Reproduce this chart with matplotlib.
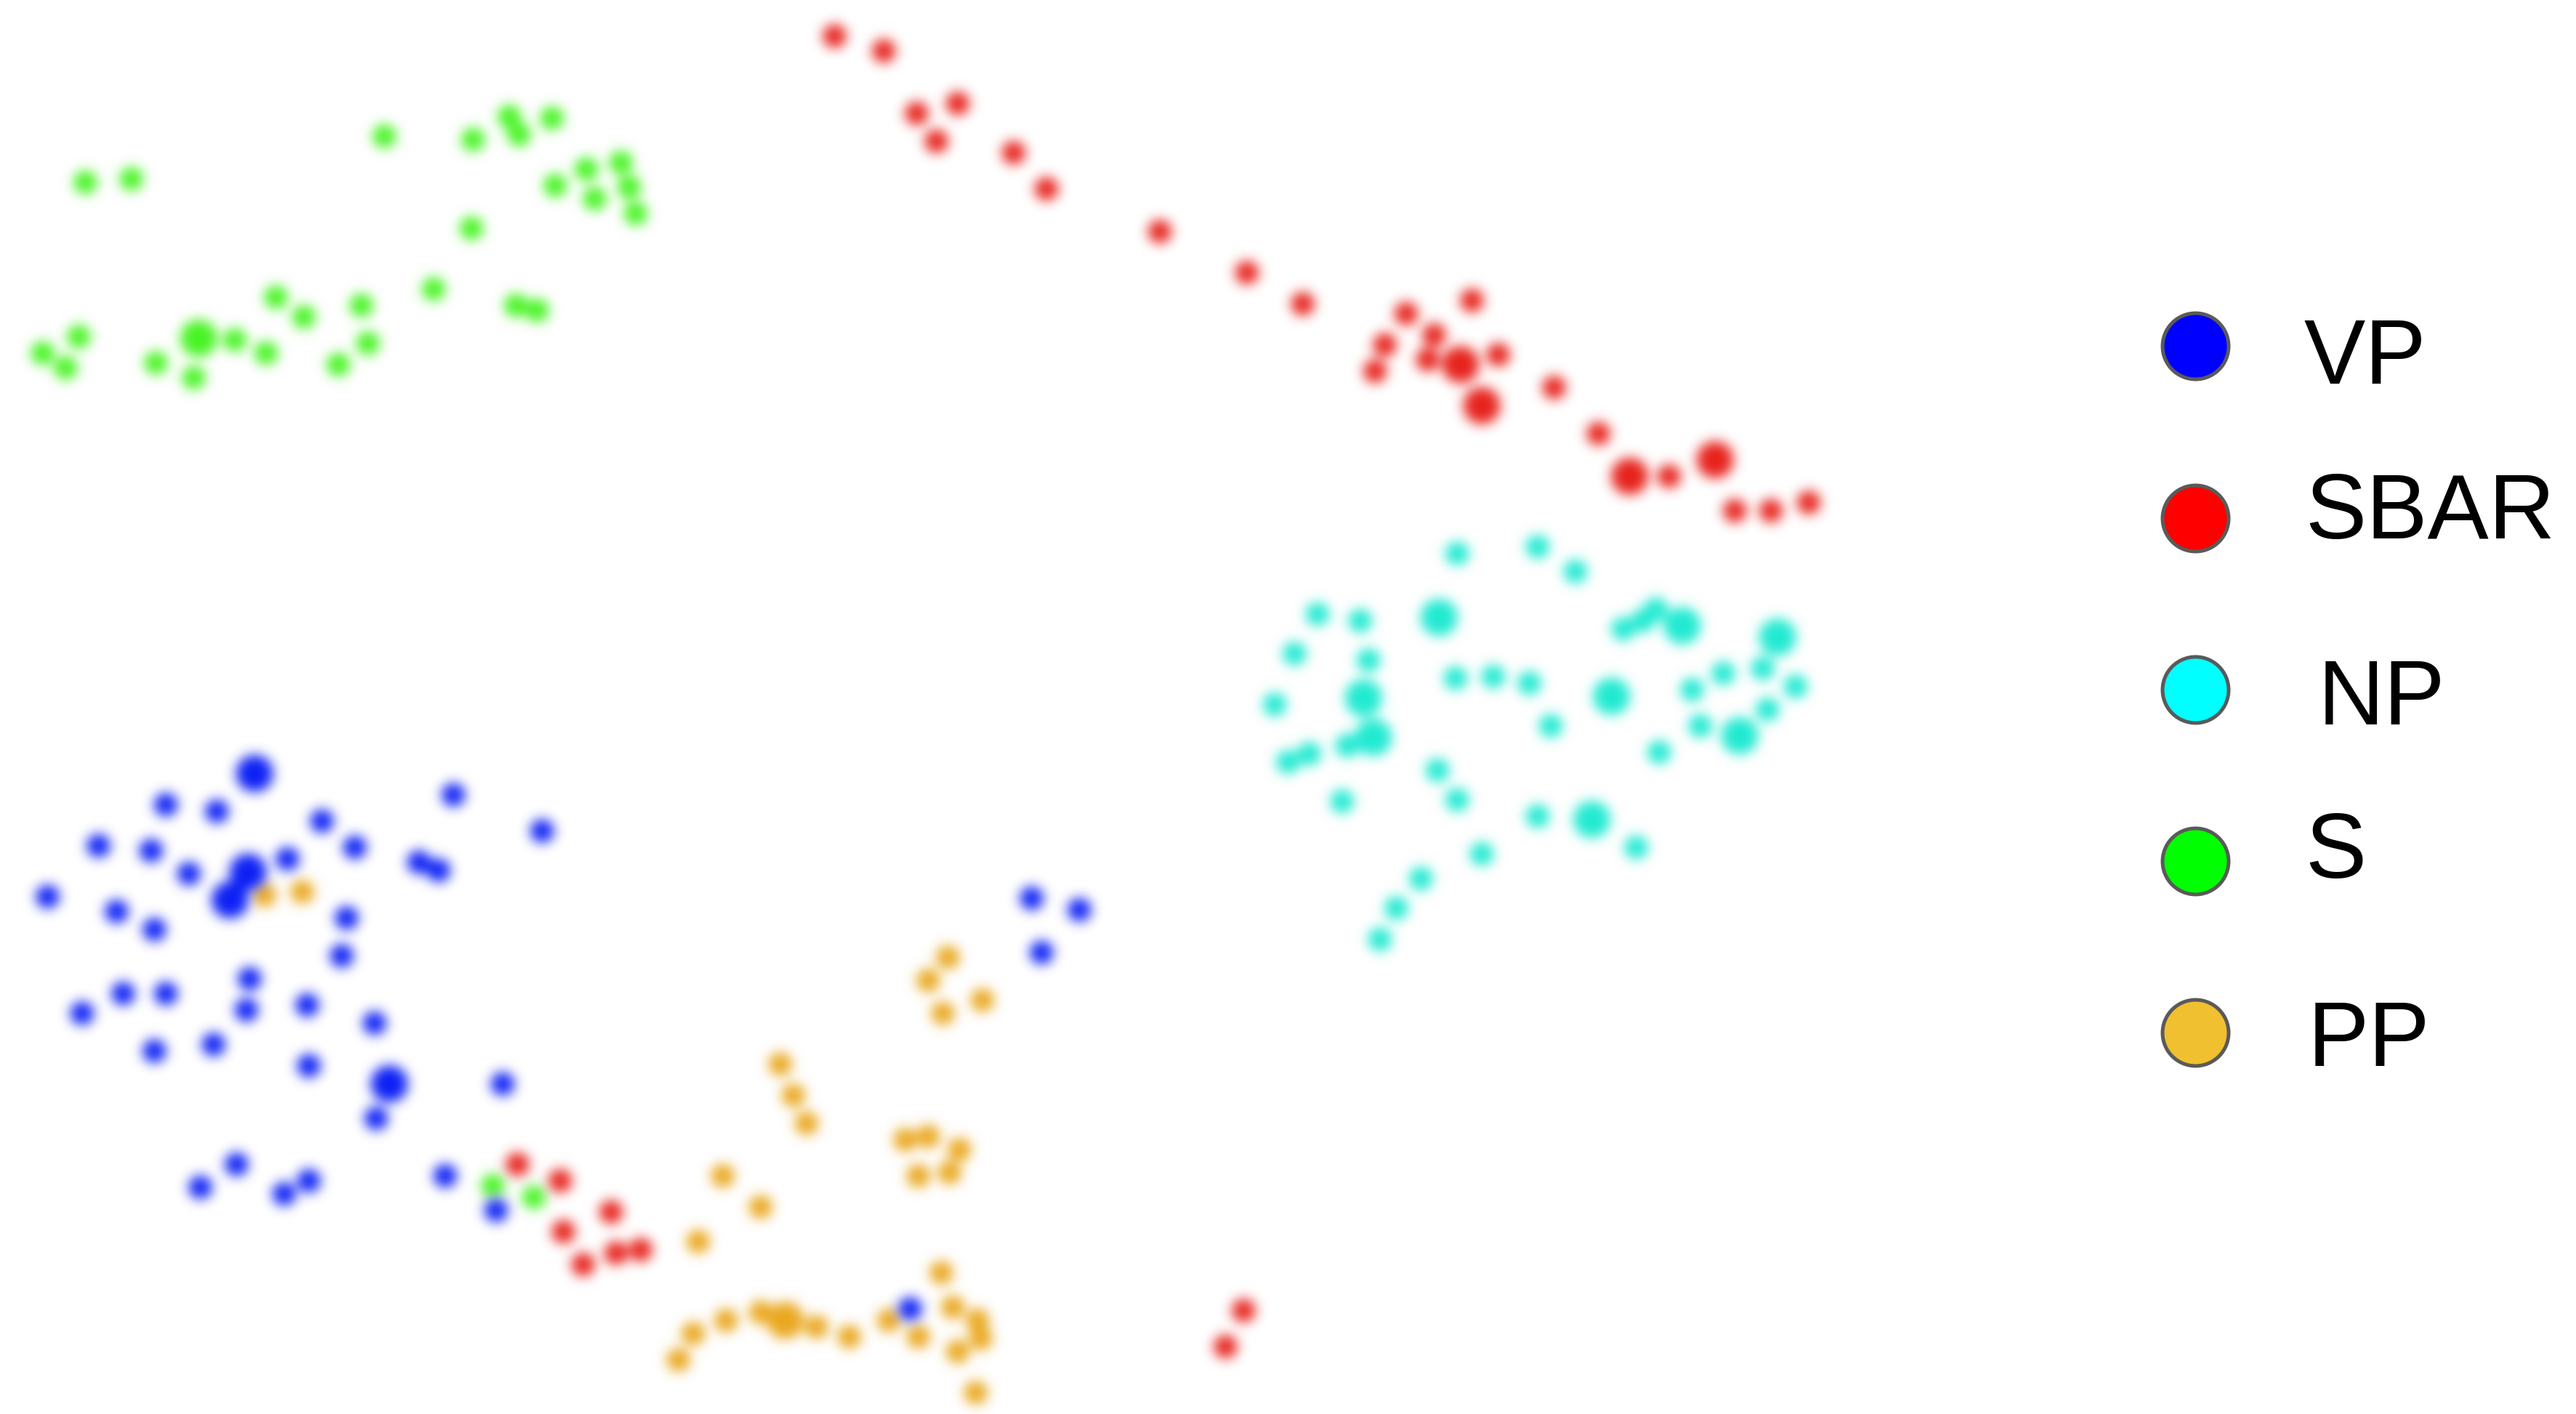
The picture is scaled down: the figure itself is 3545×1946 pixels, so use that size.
import numpy as np
import matplotlib
matplotlib.use("Agg")
import matplotlib.pyplot as plt
from matplotlib.lines import Line2D

# 2-D embedding coordinates for each class (repeated pairs = stacked samples)
vp_x = [155, 155, 101, 132, 60, 92, 115, 151, 151, 175, 196, 216, 276, 330, 255, 267,
        29, 71, 94, 140, 140, 211, 208, 152, 150, 75, 101, 50, 187, 228, 94, 130, 188,
        237, 237, 229, 306, 144, 122, 173, 188, 271, 302, 628, 657, 634, 554]
vp_y = [471, 471, 490, 494, 515, 518, 532, 531, 531, 523, 500, 516, 484, 506, 525, 530,
        546, 555, 566, 548, 548, 559, 582, 596, 615, 605, 605, 617, 612, 623, 640, 636, 649,
        660, 660, 681, 660, 709, 723, 727, 719, 716, 737, 547, 554, 580, 797]

sbar_x = [508, 538, 558, 583, 570, 617, 637, 706, 759, 793, 856, 896, 873, 843, 837, 869,
          889, 889, 912, 902, 902, 946, 973, 992, 992, 1016, 1044, 1044, 1056, 1078, 1101,
          315, 341, 372, 343, 355, 375, 390, 757, 746]
sbar_y = [22, 31, 69, 63, 86, 93, 115, 141, 166, 185, 191, 183, 204, 210, 226, 219,
          222, 222, 216, 247, 247, 236, 264, 290, 290, 290, 280, 280, 311, 311, 306,
          709, 719, 738, 750, 770, 763, 761, 798, 820]

np_x = [887, 936, 959, 802, 828, 876, 876, 788, 833, 776, 830, 830, 886, 909, 931, 981,
        981, 988, 1000, 1008, 1024, 1024, 1082, 1082, 1073, 1049, 1030, 1093, 1076, 1035,
        1059, 1059, 1010, 944, 797, 784, 820, 836, 836, 875, 887, 817, 936, 969, 969, 996,
        902, 865, 850, 840]
np_y = [337, 333, 348, 374, 378, 376, 376, 398, 402, 429, 425, 425, 413, 412, 416, 424,
        424, 383, 378, 371, 381, 381, 388, 388, 407, 410, 420, 418, 432, 442,
        448, 448, 458, 442, 459, 464, 454, 449, 449, 469, 487, 488, 497, 499, 499, 516,
        520, 535, 553, 572]

s_x = [52, 80, 234, 288, 310, 316, 336, 338, 357, 362, 378, 383, 387, 287, 264, 168,
       185, 220, 224, 206, 314, 327, 121, 121, 143, 162, 95, 118, 48, 26, 40, 300, 325]
s_y = [111, 109, 83, 85, 71, 82, 72, 113, 103, 121, 99, 114, 130, 139, 176, 181,
       193, 186, 209, 222, 186, 189, 206, 206, 207, 215, 221, 230, 205, 215, 224, 722, 729]

pp_x = [161, 184, 577, 565, 598, 574, 475, 483, 491, 551, 565, 584, 559, 578, 440, 463,
        425, 573, 580, 595, 597, 559, 583, 541, 517, 497, 478, 478, 463, 442, 422, 413, 594]
pp_y = [545, 543, 583, 597, 609, 617, 648, 667, 684, 694, 692, 700, 716, 714, 716, 735,
        756, 775, 796, 804, 815, 814, 823, 804, 814, 808, 804, 804, 799, 804, 812, 828, 848]

labels = ["VP", "SBAR", "NP", "S", "PP"]
dot_colors = ["#0A1EF5", "#E8201A", "#1EEBD2", "#45F520", "#EBA81E"]
key_colors = ["#0000FF", "#FF0000", "#00FFFF", "#00FF00", "#F0C030"]

W, H = 3545, 1946


def soften(img, dpi, sigma=6.0):
    # gaussian blur on premultiplied rgba
    pad = int(np.ceil(3 * sigma))
    rgba = np.pad(img, ((pad, pad), (pad, pad), (0, 0))).astype(np.float64)
    rgba[..., :3] *= rgba[..., 3:]
    t = np.arange(-pad, pad + 1)
    k = np.exp(-0.5 * (t / sigma) ** 2)
    k /= k.sum()
    for axis in (0, 1):
        n = rgba.shape[axis] + len(k) - 1
        kf = np.fft.rfft(k, n)
        shape = [1, 1, 1]
        shape[axis] = -1
        f = np.fft.rfft(rgba, n, axis=axis) * kf.reshape(shape)
        full = np.fft.irfft(f, n, axis=axis)
        rgba = np.take(full, np.arange(pad, pad + rgba.shape[axis]), axis=axis)
    rgba = np.clip(rgba, 0, None)
    a = rgba[..., 3:]
    rgba[..., :3] = np.where(a > 1e-4, rgba[..., :3] / np.maximum(a, 1e-4), 0)
    rgba = np.clip(rgba, 0, 1)
    return rgba, -pad, -pad


fig = plt.figure(figsize=(W / 100, H / 100), dpi=100)
ax = fig.add_axes([0, 0, 1, 1])
ax.set_xlim(0, 1568)
ax.set_ylim(861, 0)
ax.axis("off")

groups = {
    "PP": (pp_x, pp_y, dot_colors[4]),
    "S": (s_x, s_y, dot_colors[3]),
    "SBAR": (sbar_x, sbar_y, dot_colors[1]),
    "NP": (np_x, np_y, dot_colors[2]),
    "VP": (vp_x, vp_y, dot_colors[0]),
}
for name, (xs, ys, c) in groups.items():
    pts, counts = np.unique(np.column_stack([xs, ys]), axis=0, return_counts=True)
    sizes = 540 * (1 + 1.5 * (counts - 1))
    sc = ax.scatter(pts[:, 0], pts[:, 1], s=sizes, color=c, linewidths=0)
    sc.set_agg_filter(soften)
    sc.set_rasterized(True)

# hand-placed key on the right
key = fig.add_axes([0, 0, 1, 1])
key.set_xlim(0, W)
key.set_ylim(H, 0)
key.axis("off")
key_y = [476, 713, 949, 1185, 1421]
text_x = [3170, 3172, 3190, 3172, 3176]
baselines = [528, 741, 997, 1208, 1467]
for i, lab in enumerate(labels):
    key.add_line(Line2D([3021], [key_y[i]], marker="o", markersize=65.5,
                        markerfacecolor=key_colors[i], markeredgecolor="#5a5a5a",
                        markeredgewidth=3.6, linestyle="none"))
    key.text(text_x[i], baselines[i], lab, fontsize=91, family="Liberation Sans",
             ha="left", va="baseline", color="black")

fig.savefig("out.png", dpi=100)
